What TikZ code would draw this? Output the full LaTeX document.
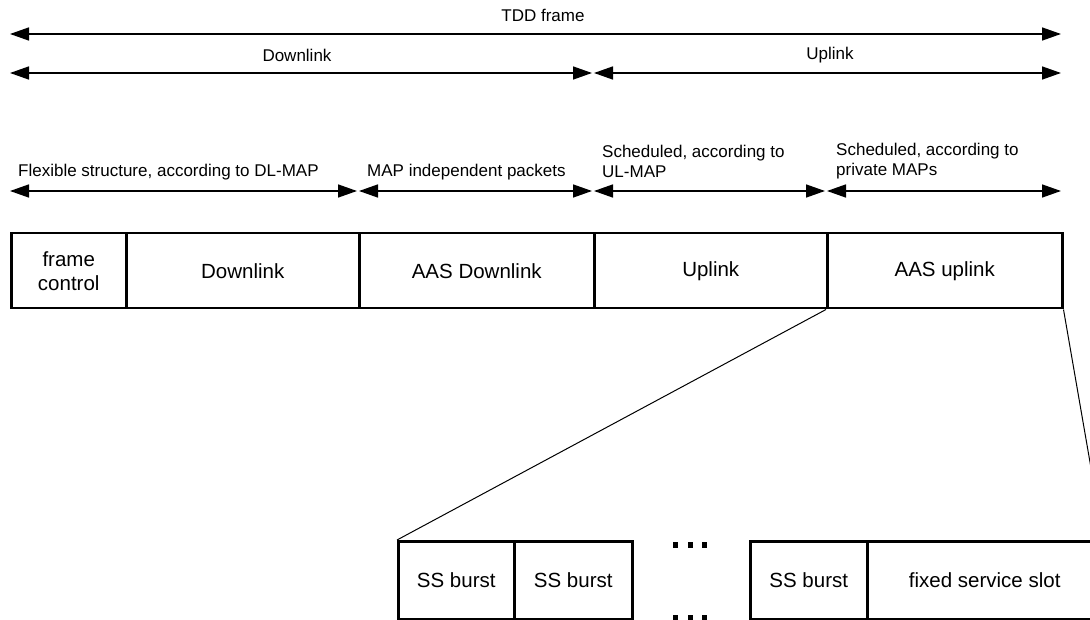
\documentclass[tikz,border=0pt]{standalone}
\usepackage{fontspec}
\setmainfont{Liberation Sans}
\usetikzlibrary{arrows.meta}

\tikzset{
  span/.style={line width=1.5pt, {Triangle[length=19pt,width=13pt]}-{Triangle[length=19pt,width=13pt]}},
  lbl/.style={inner sep=0pt, font=\fontsize{17}{20}\selectfont},
  cell/.style={draw, line width=2.5pt, anchor=north west, inner sep=0pt,
               align=center, font=\fontsize{20.5}{24}\selectfont},
  zoomline/.style={line width=1pt},
  dot/.style={fill=black, draw=none},
}

\begin{document}
\begin{tikzpicture}[x=1pt, y=-1pt]
\useasboundingbox (0,0) rectangle (1090,620);
\clip (0,0) rectangle (1090,620);

% ---- span arrows ----
\coordinate (tddL) at (10,34);   \coordinate (tddR) at (1061,34);
\coordinate (dlL)  at (10,73);   \coordinate (dlR)  at (592,73);
\coordinate (ulL)  at (594,73);  \coordinate (ulR)  at (1061,73);
\draw[span] (tddL) -- (tddR);
\draw[span] (dlL) -- (dlR);
\draw[span] (ulL) -- (ulR);
\node[lbl] (tddtxt) at (543,15) {TDD frame};
\node[lbl] (dltxt)  at (297,55) {Downlink};
\node[lbl] (ultxt)  at (830,55) {Uplink};

\coordinate (a1L) at (10,191);  \coordinate (a1R) at (357,191);
\coordinate (a2L) at (359,191); \coordinate (a2R) at (592,191);
\coordinate (a3L) at (594,191); \coordinate (a3R) at (825,191);
\coordinate (a4L) at (827,191); \coordinate (a4R) at (1061,191);
\draw[span] (a1L) -- (a1R);
\draw[span] (a2L) -- (a2R);
\draw[span] (a3L) -- (a3R);
\draw[span] (a4L) -- (a4R);
\node[lbl, anchor=west] (flex) at (18,172) {Flexible structure, according to DL-MAP};
\node[lbl, anchor=west] (mapind) at (367,172) {MAP independent packets};
\node[lbl, anchor=west, align=left] (schedul) at (602,161) {Scheduled, according to\\UL-MAP};
\node[lbl, anchor=west, align=left] (schedpriv) at (836,161) {Scheduled, according to\\private MAPs};

% ---- TDD frame cells ----
\node[cell, minimum width=115pt, minimum height=75pt] (fc)   at (10,232)  {frame\\control};
\node[cell, minimum width=233pt, minimum height=75pt] (dl)   at (125,232) {Downlink};
\node[cell, minimum width=235pt, minimum height=75pt] (aasd) at (358,232) {AAS Downlink};
\node[cell, minimum width=233pt, minimum height=75pt] (ul)   at (593,232) {Uplink};
\node[cell, minimum width=235pt, minimum height=75pt] (aasu) at (826,232) {AAS uplink};

% ---- expanded AAS uplink ----
\node[cell, minimum width=116pt, minimum height=78pt] (b1) at (397,540) {SS burst};
\node[cell, minimum width=118pt, minimum height=78pt] (b2) at (513,540) {SS burst};
\node[cell, minimum width=117pt, minimum height=78pt] (b3) at (749,540) {SS burst};
\node[cell, minimum width=235pt, minimum height=78pt] (fs) at (866,540) {fixed service slot};

\draw[zoomline] (aasu.south west) -- (b1.north west);
\draw[zoomline] (aasu.south east) -- (fs.north east);

% ---- ellipsis marks ----
\foreach \x in {673,688,702} {
  \fill[dot] (\x,542) rectangle (\x+5,548);
  \fill[dot] (\x,615) rectangle (\x+5,621);
}
\end{tikzpicture}
\end{document}
